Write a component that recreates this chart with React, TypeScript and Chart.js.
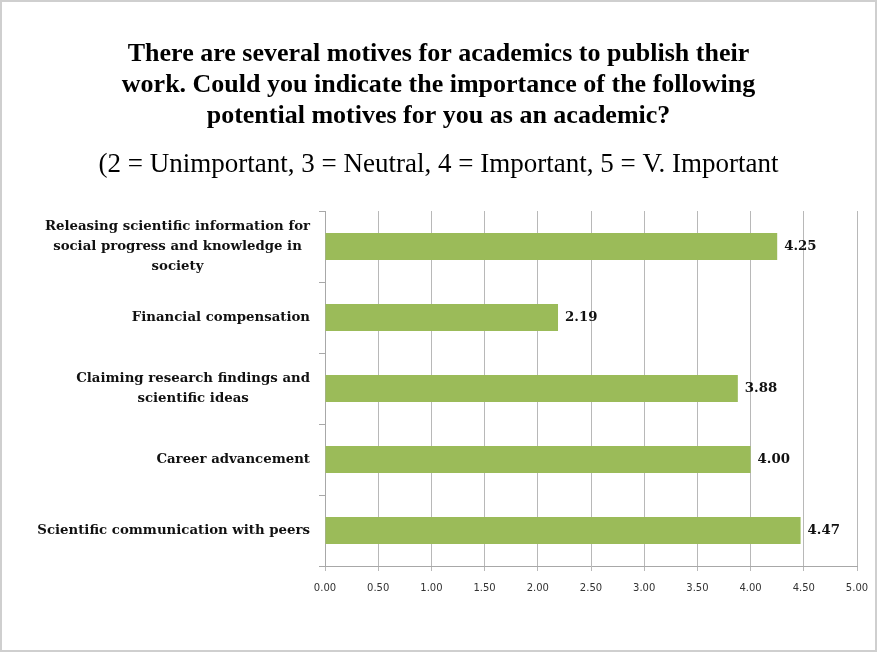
import React, { useEffect, useRef } from "react";
import { Chart, registerables } from "chart.js";

Chart.register(...registerables);

const titleLines: string[] = [
  "There are several motives for academics to publish their",
  "work. Could you indicate the importance of the following",
  "potential motives for you as an academic?",
];
const subtitleText = "(2 = Unimportant, 3 = Neutral, 4 = Important, 5 = V. Important";

const categories: string[][] = [
  ["Releasing scientific information for", "social progress and knowledge in", "society"],
  ["Financial compensation"],
  ["Claiming research findings and", "scientific ideas"],
  ["Career advancement"],
  ["Scientific communication with peers"],
];
const values: number[] = [4.25, 2.19, 3.88, 4.0, 4.47];
const xMin = 0;
const xMax = 5;
const xStep = 0.5;

const LABEL_FONT = "bold 13.3px 'DejaVu Serif'";

const framePlugin = {
  id: "frame",
  beforeDraw(chart: any) {
    const { ctx, width, height } = chart;
    ctx.save();
    ctx.fillStyle = "#ffffff";
    ctx.fillRect(0, 0, width, height);
    ctx.strokeStyle = "#cfcfcf";
    ctx.lineWidth = 2;
    ctx.strokeRect(1, 1, width - 2, height - 3);
    ctx.restore();
  },
};

const yLabelPlugin = {
  id: "yLabels",
  afterDraw(chart: any) {
    const { ctx } = chart;
    const scale = chart.scales.y;
    ctx.save();
    ctx.font = LABEL_FONT;
    ctx.fillStyle = "#111111";
    ctx.textAlign = "center";
    ctx.textBaseline = "middle";
    const lh = 20;
    categories.forEach((lines, i) => {
      const y = scale.getPixelForValue(i);
      const maxW = Math.max(...lines.map((l) => ctx.measureText(l).width));
      const cx = scale.right - 15 - maxW / 2;
      const y0 = y - ((lines.length - 1) * lh) / 2;
      lines.forEach((l, j) => ctx.fillText(l, cx, y0 + j * lh));
    });
    ctx.restore();
  },
};

const valueLabelPlugin = {
  id: "valueLabels",
  afterDatasetsDraw(chart: any) {
    const { ctx } = chart;
    const meta = chart.getDatasetMeta(0);
    ctx.save();
    ctx.font = LABEL_FONT;
    ctx.fillStyle = "#111111";
    ctx.textAlign = "left";
    ctx.textBaseline = "middle";
    meta.data.forEach((bar: any, i: number) => {
      ctx.fillText(values[i].toFixed(2), bar.x + 7, bar.y);
    });
    ctx.restore();
  },
};

export default function App() {
  const ref = useRef<HTMLCanvasElement | null>(null);
  useEffect(() => {
    if (!ref.current) return;
    const chart = new Chart(ref.current, {
      type: "bar",
      data: {
        labels: categories.map((c) => c.join(" ")),
        datasets: [
          {
            data: values,
            backgroundColor: "#9BBB59",
            borderWidth: 0,
            barPercentage: 0.38,
            categoryPercentage: 1,
          },
        ],
      },
      options: {
        indexAxis: "y",
        responsive: false,
        animation: false,
        layout: { padding: { left: 0, right: 0, top: 0, bottom: 48 } },
        plugins: {
          legend: { display: false },
          tooltip: { enabled: false },
          title: {
            display: true,
            text: titleLines,
            color: "#000000",
            font: { family: "'Liberation Serif'", size: 26, weight: "bold", lineHeight: 1.19 },
            padding: { top: 38.5, bottom: 0 },
          },
          subtitle: {
            display: true,
            text: subtitleText,
            color: "#000000",
            font: { family: "'Liberation Serif'", size: 27, weight: "normal", lineHeight: 1.1 },
            padding: { top: 18.8, bottom: 31.2 },
          },
        },
        scales: {
          x: {
            type: "linear",
            min: xMin,
            max: xMax,
            ticks: {
              stepSize: xStep,
              padding: 11,
              color: "#333333",
              font: { family: "'DejaVu Sans'", size: 10 },
              callback: (v: any) => Number(v).toFixed(2),
            },
            grid: { color: "#b8b8b8", lineWidth: 1, drawTicks: true, tickLength: 5 },
            border: { display: true, color: "#a8a8a8" },
            afterFit: (s: any) => {
              s.paddingRight = 20;
            },
          },
          y: {
            type: "category",
            ticks: { display: false },
            grid: {
              display: true,
              drawOnChartArea: false,
              drawTicks: true,
              tickLength: 6,
              offset: true,
              color: "#a8a8a8",
            },
            border: { display: true, color: "#a8a8a8" },
            afterFit: (s: any) => {
              s.width = 325;
            },
          },
        },
      },
      plugins: [framePlugin, yLabelPlugin, valueLabelPlugin],
    } as any);
    return () => chart.destroy();
  }, []);
  return (
    <div style={{ position: "fixed", left: 0, top: 0, width: 877, height: 653 }}>
      <canvas ref={ref} width={877} height={653} />
    </div>
  );
}
